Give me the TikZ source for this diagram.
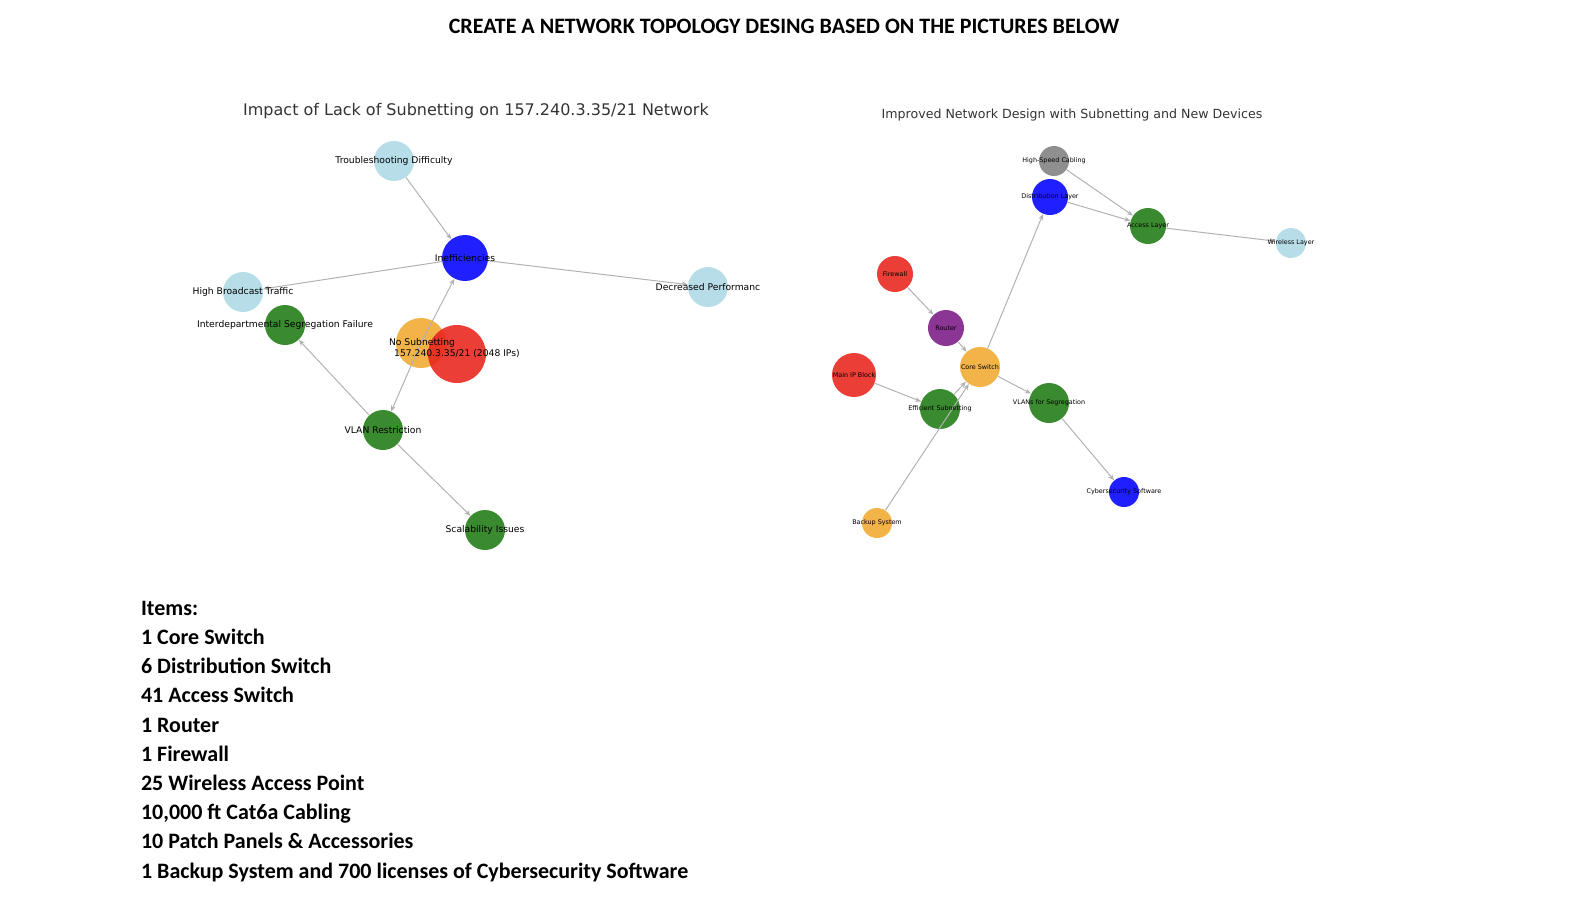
\documentclass[tikz,border=0pt]{standalone}
\usepackage{fontspec}
\setmainfont{DejaVu Sans}
\newfontfamily\calfont{Carlito}
\usetikzlibrary{arrows.meta}
\definecolor{lb}{HTML}{ADD8E6}
\definecolor{bl}{HTML}{0000FF}
\definecolor{gg}{HTML}{1F7A12}
\definecolor{og}{HTML}{F0A830}
\definecolor{rd}{HTML}{E8231A}
\definecolor{pu}{HTML}{7B1A85}
\definecolor{gy}{HTML}{808080}
\tikzset{
 nd/.style 2 args={circle,fill=#1,fill opacity=0.88,text opacity=1,inner sep=0pt,minimum size=#2*0.5pt},
 lnk/.style={draw=gray!60,line width=0.5pt,-{Stealth[length=3pt,width=2.5pt]}},
 lab/.style={font=\fontsize{4.6}{5}\selectfont},
 labs/.style={font=\fontsize{3.2}{3.6}\selectfont},
}
\begin{document}
\begin{tikzpicture}[x=0.5pt,y=-0.5pt]
\useasboundingbox (0,0) rectangle (1578,896);
\node[font=\calfont\bfseries\fontsize{11}{13}\selectfont] (title) at (784,26) {CREATE A NETWORK TOPOLOGY DESING BASED ON THE PICTURES BELOW};
\node[font=\fontsize{8}{9}\selectfont,text=black!80] (t1) at (476,111) {Impact of Lack of Subnetting on 157.240.3.35/21 Network};
\node[font=\fontsize{6.3}{7}\selectfont,text=black!80] (t2) at (1072,115) {Improved Network Design with Subnetting and New Devices};
% left graph
\node[nd={lb}{40}] (ts) at (394,161) {};
\node[nd={bl}{46}] (ie) at (465,258) {};
\node[nd={lb}{40}] (hb) at (243,292) {};
\node[nd={lb}{40}] (dp) at (708,287) {};
\node[nd={gg}{40}] (id) at (285,325) {};
\node[nd={og}{50}] (ns) at (421,343) {};
\node[nd={rd}{58}] (ip) at (457,354) {};
\node[nd={gg}{40}] (vr) at (383,430) {};
\node[nd={gg}{40}] (sc) at (485,530) {};
\draw[lnk] (ts) -- (ie);
\draw[lnk] (ie) -- (hb);
\draw[lnk] (ie) -- (dp);
\draw[lnk] (ns.center) -- (ie);
\draw[lnk] (ns.center) -- (vr);
\draw[lnk] (vr) -- (id);
\draw[lnk] (vr) -- (sc);
\node[lab] at (ts) {Troubleshooting Difficulty};
\node[lab] at (ie) {Inefficiencies};
\node[lab] at (hb) {High Broadcast Traffic};
\node[lab] at (dp) {Decreased Performanc};
\node[lab] at (id) {Interdepartmental Segregation Failure};
\node[lab] at (422,343) {No Subnetting};
\node[lab] at (457,354) {157.240.3.35/21 (2048 IPs)};
\node[lab] at (vr) {VLAN Restriction};
\node[lab] at (sc) {Scalability Issues};
% right graph
\node[nd={gy}{30}] (hs) at (1054,161) {};
\node[nd={bl}{36}] (dl) at (1050,197) {};
\node[nd={gg}{36}] (al) at (1148,226) {};
\node[nd={lb}{30}] (wl) at (1291,243) {};
\node[nd={rd}{36}] (fw) at (895,274) {};
\node[nd={pu}{36}] (rt) at (946,328) {};
\node[nd={rd}{44}] (mb) at (854,375) {};
\node[nd={og}{40}] (cs) at (980,367) {};
\node[nd={gg}{40}] (es) at (940,409) {};
\node[nd={gg}{40}] (vs) at (1049,403) {};
\node[nd={bl}{30}] (cy) at (1124,492) {};
\node[nd={og}{30}] (bs) at (877,523) {};
\draw[lnk] (hs) -- (al);
\draw[lnk] (dl) -- (al);
\draw[lnk] (al) -- (wl);
\draw[lnk] (cs) -- (dl);
\draw[lnk] (fw) -- (rt);
\draw[lnk] (rt) -- (cs);
\draw[lnk] (mb) -- (es);
\draw[lnk] (es) -- (cs);
\draw[lnk] (bs) -- (cs);
\draw[lnk] (cs) -- (vs);
\draw[lnk] (vs) -- (cy);
\node[labs] at (hs) {High-Speed Cabling};
\node[labs] at (dl) {Distribution Layer};
\node[labs] at (al) {Access Layer};
\node[labs] at (wl) {Wireless Layer};
\node[labs] at (fw) {Firewall};
\node[labs] at (rt) {Router};
\node[labs] at (mb) {Main IP Block};
\node[labs] at (cs) {Core Switch};
\node[labs] at (es) {Efficient Subnetting};
\node[labs] at (vs) {VLANs for Segregation};
\node[labs] at (cy) {Cybersecurity Software};
\node[labs] at (bs) {Backup System};
% items
\node[anchor=north west,align=left,font=\calfont\bfseries\fontsize{11}{14.6}\selectfont] (items) at (134,594) {Items:\\1 Core Switch\\6 Distribution Switch\\41 Access Switch\\1 Router\\1 Firewall\\25 Wireless Access Point\\10,000 ft Cat6a Cabling\\10 Patch Panels \& Accessories\\1 Backup System and 700 licenses of Cybersecurity Software};
\end{tikzpicture}
\end{document}
